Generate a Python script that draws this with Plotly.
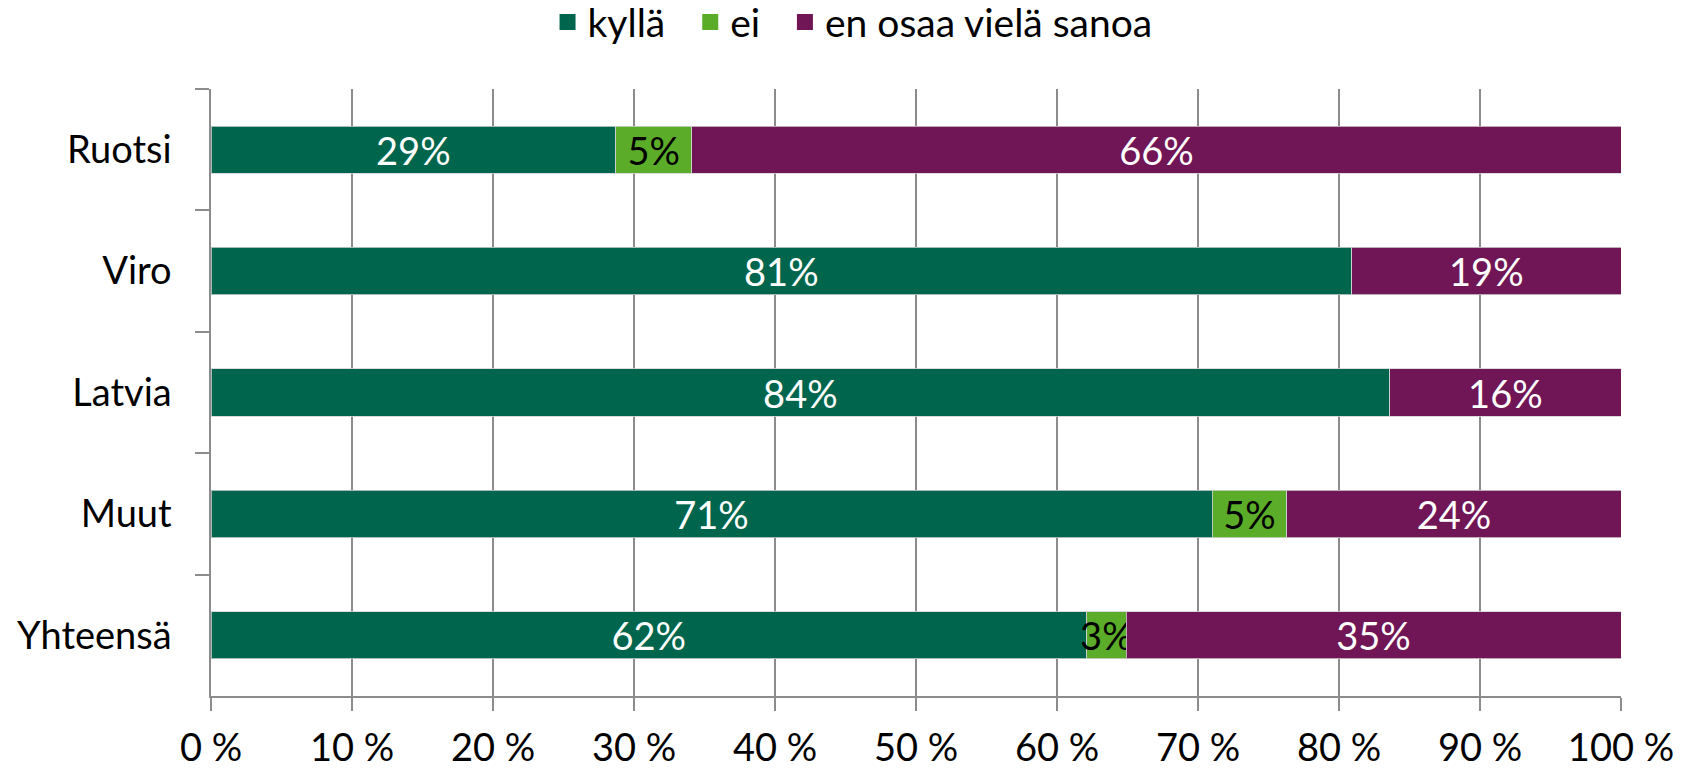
import plotly.graph_objects as go

categories = ["Ruotsi", "Viro", "Latvia", "Muut", "Yhteensä"]
kylla = [28.7, 80.9, 83.6, 71.0, 62.1]
ei = [5.4, 0.0, 0.0, 5.3, 2.8]
eos = [65.9, 19.1, 16.4, 23.7, 35.1]
kylla_txt = ["29%", "81%", "84%", "71%", "62%"]
ei_txt = ["5%", "", "", "5%", "3%"]
eos_txt = ["66%", "19%", "16%", "24%", "35%"]
series_names = ["kyllä", "ei", "en osaa vielä sanoa"]
tick_vals = [0, 10, 20, 30, 40, 50, 60, 70, 80, 90, 100]
tick_text = ["0 %", "10 %", "20 %", "30 %", "40 %", "50 %", "60 %", "70 %", "80 %", "90 %", "100 %"]

FONT = "Lato"
FS = 38
GRID = "#8C8C8C"

series = [
    (series_names[0], kylla, kylla_txt, "#00654D", "white", "\u00a0\u00a0"),
    (series_names[1], ei, ei_txt, "#5BAD29", "black", "\u00a0\u2005"),
    (series_names[2], eos, eos_txt, "#701555", "white", ""),
]

fig = go.Figure()
for name, vals, txt, col, tcol, pad in series:
    fig.add_trace(go.Bar(
        y=categories, x=vals, name=name, orientation="h", showlegend=False,
        marker=dict(color=col, line=dict(color="rgba(210,210,210,0.8)", width=1)),
        text=txt, textposition="inside", insidetextanchor="middle",
        constraintext="none", textangle=0,
        insidetextfont=dict(color=tcol, size=FS, family=FONT),
        width=0.39, hoverinfo="skip",
    ))
# legend entries with larger square swatches
for name, vals, txt, col, tcol, pad in series:
    fig.add_trace(go.Scatter(
        x=[None], y=[None], mode="markers", name=name + pad, showlegend=True,
        marker=dict(symbol="square", size=24, color=col), hoverinfo="skip",
    ))

fig.update_layout(
    width=1690, height=768,
    barmode="stack",
    plot_bgcolor="white", paper_bgcolor="white",
    margin=dict(l=211, r=69, t=89, b=72, autoexpand=False),
    font=dict(family=FONT, size=FS, color="black"),
    legend=dict(orientation="h", x=0.455, xanchor="center", y=1.11, yanchor="middle",
                font=dict(size=39, family=FONT), traceorder="normal", itemwidth=30,
                itemsizing="trace"),
    xaxis=dict(range=[0, 100], tickvals=tick_vals, ticktext=tick_text,
               showgrid=True, gridcolor=GRID, gridwidth=1.5,
               showline=True, linecolor=GRID, linewidth=1.5,
               ticks="outside", ticklen=13, tickcolor=GRID, tickwidth=1.5,
               ticklabelstandoff=5, zeroline=False, fixedrange=True, automargin=False),
    yaxis=dict(autorange="reversed", showline=True, linecolor=GRID, linewidth=1.5,
               ticks="outside", ticklen=14, tickcolor=GRID, tickwidth=1.5,
               tickson="boundaries", showgrid=False, ticklabelstandoff=30,
               fixedrange=True, automargin=False),
)

fig.write_html("out.html", config={"displayModeBar": False},
               post_script="document.body.style.margin='0';document.body.style.overflow='hidden';")
